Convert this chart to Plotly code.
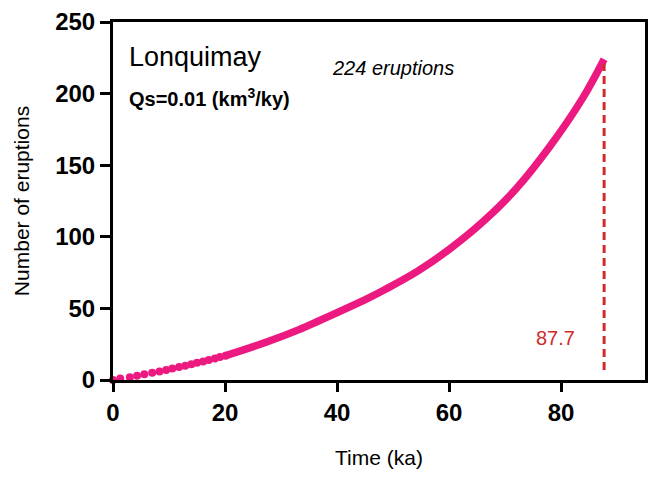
import plotly.graph_objects as go

# Cumulative eruptions through time (Lonquimay, Qs = 0.01 km3/ky)
# Early, individually resolved eruptions
early_time_ka = [0.0, 1.3, 3.0, 4.3, 5.6, 7.0, 8.3, 9.5, 10.6, 11.8,
                 12.9, 14.0, 15.0, 16.1, 17.1, 18.2, 19.1, 20.1]
early_count = list(range(0, 18))

# Later part of the record, where eruptions follow each other closely
late_time_ka = [20.1, 27.8, 33.1, 36.6, 45.5, 48.5, 54.4, 60.3, 66.2,
                72.1, 78.0, 83.9, 87.7]
late_count = [17, 27, 35, 41, 57, 63, 76, 92, 111, 134, 163, 197, 224]

end_time_ka = 87.7
total_eruptions = 224

x_ticks = [0, 20, 40, 60, 80]
y_ticks = [0, 50, 100, 150, 200, 250]

PINK = "#ec1a80"
RED = "#d02b2b"
FONT = "Liberation Sans, Arial, sans-serif"

fig = go.Figure()

fig.add_trace(go.Scatter(
    x=late_time_ka, y=late_count, mode="lines",
    line=dict(color=PINK, width=7.5, shape="spline", smoothing=1.0),
    cliponaxis=False, hoverinfo="skip", showlegend=False,
))
fig.add_trace(go.Scatter(
    x=early_time_ka, y=early_count, mode="markers",
    marker=dict(color=PINK, size=8, line=dict(width=0)),
    cliponaxis=False, showlegend=False,
))

# Vertical dashed marker at the time of the last eruption
fig.add_trace(go.Scatter(
    x=[end_time_ka, end_time_ka], y=[7, total_eruptions - 3], mode="lines",
    line=dict(color=RED, width=3, dash="8px,5px"),
    hoverinfo="skip", showlegend=False,
))

axis_common = dict(
    showline=True, linecolor="black", linewidth=3, mirror=True,
    ticks="outside", tickwidth=3, tickcolor="black",
    showgrid=False, zeroline=False,
    tickfont=dict(family=FONT, size=24, color="black", weight="bold"),
)

fig.update_xaxes(
    range=[0, 95], tickvals=x_ticks, ticktext=[str(v) for v in x_ticks],
    ticklen=9,
    title=dict(text="Time (ka)", font=dict(family=FONT, size=21, color="black"),
               standoff=26),
    **axis_common,
)
fig.update_yaxes(
    range=[0, 250], tickvals=y_ticks, ticktext=[str(v) for v in y_ticks],
    ticklen=10,
    title=dict(text="Number of eruptions",
               font=dict(family=FONT, size=21, color="black"), standoff=20),
    **axis_common,
)

annotations = [
    dict(x=0.026, y=0.902, xref="paper", yref="paper", text="Lonquimay",
         showarrow=False, xanchor="left", yanchor="middle",
         font=dict(family=FONT, size=27, color="black")),
    dict(x=0.026, y=0.79, xref="paper", yref="paper",
         text="<b>Qs=0.01 (km<sup>3</sup>/ky)</b>",
         showarrow=False, xanchor="left", yanchor="middle",
         font=dict(family=FONT, size=20, color="black")),
    dict(x=0.527, y=0.871, xref="paper", yref="paper",
         text=f"<i>{total_eruptions} eruptions</i>",
         showarrow=False, xanchor="center", yanchor="middle",
         font=dict(family=FONT, size=20, color="black")),
    dict(x=79, y=29, xref="x", yref="y",
         text=f"{end_time_ka}", showarrow=False,
         xanchor="center", yanchor="middle",
         font=dict(family=FONT, size=20, color=RED)),
]

fig.update_layout(
    width=654, height=478,
    margin=dict(l=113, r=6, t=22, b=98),
    paper_bgcolor="white", plot_bgcolor="white",
    font=dict(family=FONT),
    annotations=annotations,
)

fig.write_html("out.html")
